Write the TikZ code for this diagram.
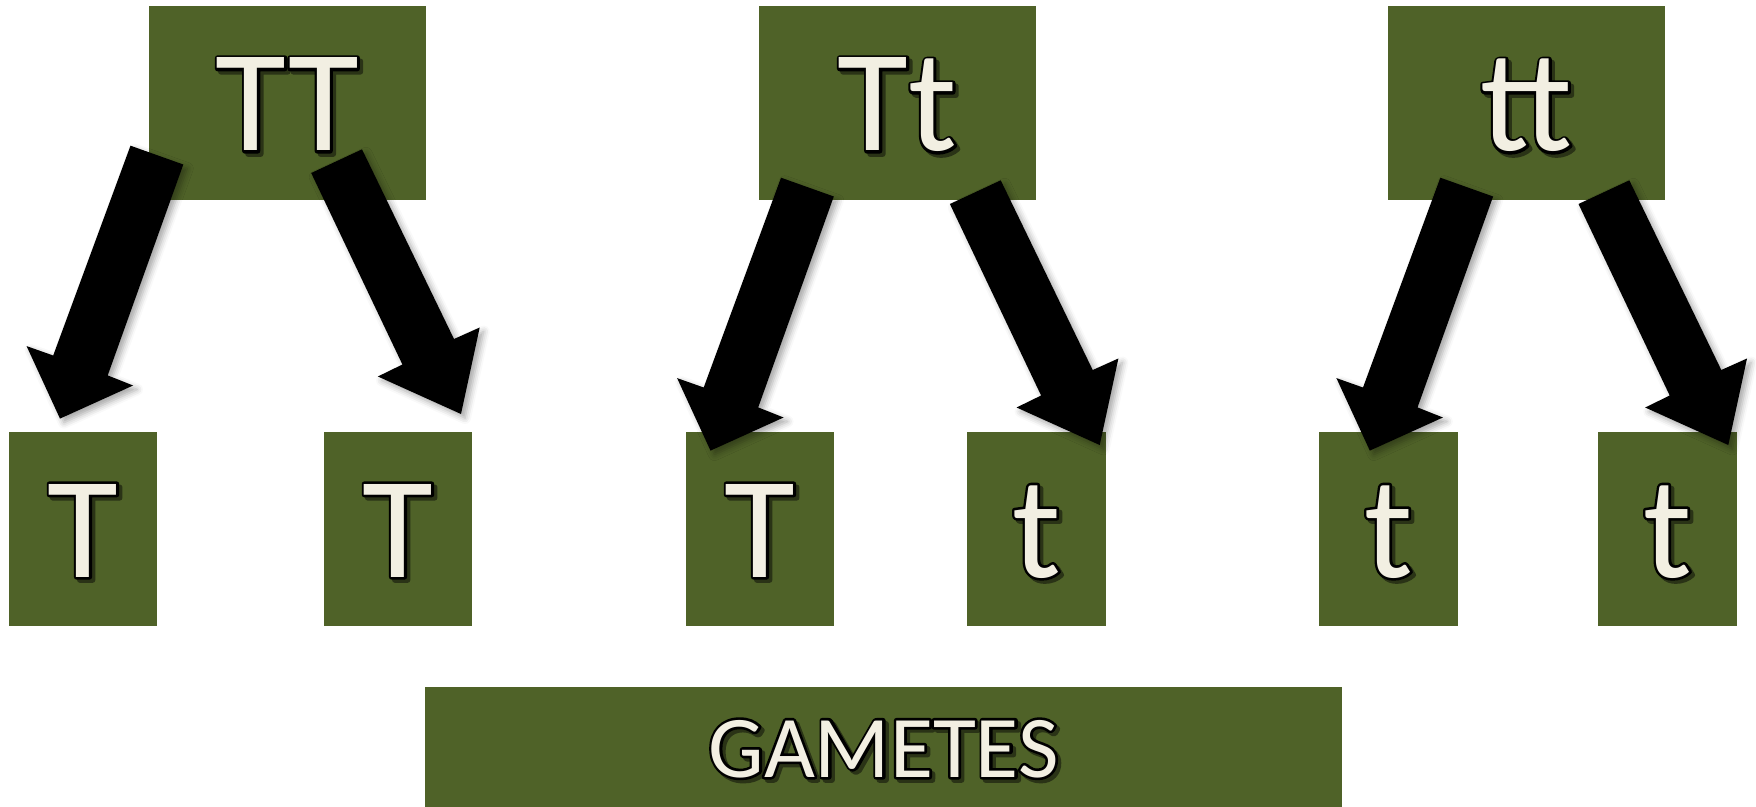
\documentclass[tikz,border=0pt]{standalone}
\usepackage{fontspec}
\setmainfont{Carlito}
\usetikzlibrary{shadows.blur}
\definecolor{boxgreen}{HTML}{4F6228}
\definecolor{cream}{HTML}{F2EFE2}
\definecolor{shadowc}{HTML}{2A3316}
\newcommand{\gtxt}[1]{%
\makebox[0pt][l]{\hspace{1.6pt}\raisebox{-1.6pt}{\color{shadowc}\special{pdf:literal direct 2 Tr 2.6 w 1 j 0.165 0.2 0.086 RG}#1\special{pdf:literal direct 0 Tr}}}%
\makebox[0pt][l]{\color{black}\special{pdf:literal direct 1 Tr 2.6 w 1 j 0 0 0 RG}#1\special{pdf:literal direct 0 Tr}}%
{\color{cream}#1}}
\newcommand{\lblockarrow}[2]{\fill[arr,shift={(#1,#2)}] (0,0) -- (52.8,18.8) -- (-22.8,229.7) -- (2.6,239.8) -- (-70.5,272.9) -- (-103.9,200.4) -- (-77.3,209.8) -- cycle;}
\newcommand{\rblockarrow}[2]{\fill[arr,shift={(#1,#2)}] (0,0) -- (92,189.7) -- (117.7,178.2) -- (99,264.7) -- (15.9,227.2) -- (40.4,215.2) -- (-50.8,23.7) -- cycle;}
\tikzset{
  gbox/.style={fill=boxgreen, inner sep=0pt, minimum height=97pt, text height=48pt, text depth=0pt, font=\fontsize{72.5pt}{80pt}\selectfont},
  wide/.style={minimum width=138.5pt},
  narrowT/.style={minimum width=74pt},
  narrowt/.style={minimum width=69.5pt},
  arr/.style={fill=black, blur shadow={shadow xshift=2pt, shadow yshift=-2pt, shadow blur radius=3pt, shadow opacity=35}}
}
\begin{document}
\begin{tikzpicture}[x=0.5pt,y=-0.5pt]
\useasboundingbox (0,0) rectangle (1756,807);
% parents
\node[gbox,wide] (pTT) at (287.5,103) {\gtxt{TT}};
\node[gbox,wide] (pTt) at (897.5,103) {\gtxt{Tt}};
\node[gbox,wide] (ptt) at (1526.5,103) {\gtxt{tt}};
% gametes
\node[gbox,narrowT] (g1) at (83,529) {\gtxt{T}};
\node[gbox,narrowT] (g2) at (398,529) {\gtxt{T}};
\node[gbox,narrowT] (g3) at (760,529) {\gtxt{T}};
\node[gbox,narrowt] (g4) at (1036.5,529) {\gtxt{t}};
\node[gbox,narrowt] (g5) at (1388.5,529) {\gtxt{t}};
\node[gbox,narrowt] (g6) at (1667.5,529) {\gtxt{t}};
% label
\node[gbox, minimum width=458.5pt, minimum height=60pt, text height=30pt, font=\fontsize{44pt}{50pt}\selectfont] (gam) at (883.5,747) {\gtxt{GAMETES}};
% arrows
\lblockarrow{130.5}{145.7}
\rblockarrow{362}{149.3}
\lblockarrow{781}{177.7}
\rblockarrow{1000.7}{180.3}
\lblockarrow{1440.3}{177.7}
\rblockarrow{1629.3}{180.3}
\end{tikzpicture}
\end{document}
